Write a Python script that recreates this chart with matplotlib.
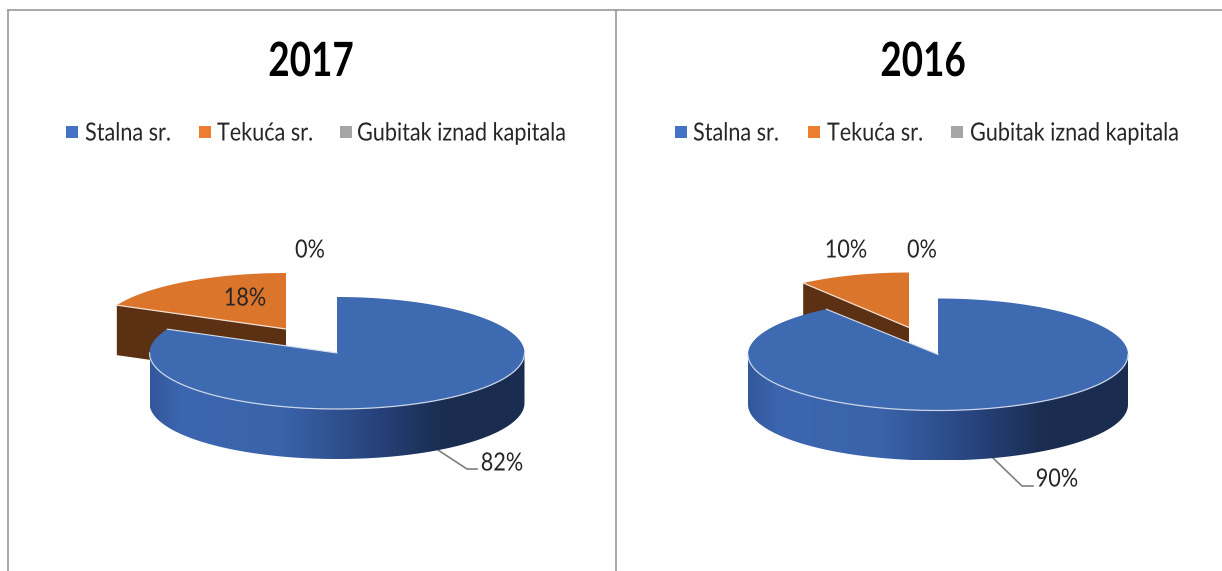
import numpy as np
import matplotlib
matplotlib.use("Agg")
import matplotlib.pyplot as plt
from matplotlib.colors import LinearSegmentedColormap
from matplotlib.patches import Polygon, Rectangle
from matplotlib.patheffects import AbstractPathEffect
from matplotlib.transforms import Affine2D

plt.rcParams['font.family'] = ['Lato', 'DejaVu Sans']

categories = ["Stalna sr.", "Tekuća sr.", "Gubitak iznad kapitala"]
titles = ["2017", "2016"]
values_2017 = [82, 18, 0]
values_2016 = [90, 10, 0]

W, H = 1222, 571
fig = plt.figure(figsize=(W / 100, H / 100), dpi=100)
ax = fig.add_axes([0, 0, 1, 1])

BLUE_TOP = "#3e6ab2"
ORANGE_TOP = "#dc752c"
WALL = "#5c3113"
LEG = ["#4472c4", "#ed7d31", "#a5a5a5"]
TXT = "#262626"
side_cmap = LinearSegmentedColormap.from_list("side", [
    (0.0, "#33579a"), (0.08, "#3c66b0"), (0.35, "#3a63aa"),
    (0.6, "#27437c"), (0.78, "#1a2d51"), (1.0, "#1a2c4f")])


class Squeeze(AbstractPathEffect):
    """Narrows a text horizontally about a pivot (pixels), as in the reference."""
    def __init__(self, pivot, factor):
        super().__init__()
        self.pivot, self.factor = pivot, factor

    def draw_path(self, renderer, gc, tpath, affine, rgbFace=None):
        squeeze = Affine2D().translate(-self.pivot, 0).scale(self.factor, 1).translate(self.pivot, 0)
        renderer.draw_path(gc, tpath, affine + squeeze, rgbFace)


def label(x, y, s, size=18, factor=0.865, ha="center", **kw):
    kw.setdefault("color", TXT)
    t = ax.text(x, y, s, fontsize=size, ha=ha, va="center", **kw)
    t.set_path_effects([Squeeze(x, factor)])
    return t


def ell(cx, cy, rx, ry, deg):
    t = np.radians(deg)
    return np.column_stack([cx + rx * np.sin(t), cy - ry * np.cos(t)])


def pie3d(values, main, second, depth):
    total = sum(values)
    a_main = 360 * values[0] / total
    a_second = a_main + 360 * values[1] / total
    cx, cy, rx, ry = second
    arc = ell(cx, cy, rx, ry, np.linspace(a_main, a_second, 60))
    wall = np.array([arc[0], [cx, cy], [cx, cy + depth], arc[0] + [0, depth]])
    ax.add_patch(Polygon(wall, fc=WALL, ec="none", zorder=2))
    top = np.vstack([[cx, cy], arc])
    ax.add_patch(Polygon(top, fc=ORANGE_TOP, ec="none", zorder=3))
    ax.plot([arc[0, 0], cx], [arc[0, 1], cy], color="#f3dfd0", lw=0.9, zorder=3.5)
    cx, cy, rx, ry = main
    front = ell(cx, cy, rx, ry, np.linspace(90, 270, 160))
    rim = np.vstack([front, (front + [0, depth])[::-1]])
    patch = Polygon(rim, fc="none", ec="none", transform=ax.transData)
    ax.add_patch(patch)
    im = ax.imshow(np.linspace(0, 1, 256)[None, :], cmap=side_cmap, aspect="auto",
                   extent=[cx - rx, cx + rx, cy + ry + depth, cy - ry], zorder=4)
    im.set_clip_path(patch)
    arc = ell(cx, cy, rx, ry, np.linspace(0, a_main, 240))
    top = np.vstack([[cx, cy], arc])
    ax.add_patch(Polygon(top, fc=BLUE_TOP, ec="none", zorder=5))
    ax.plot(front[:, 0], front[:, 1], color="#c9d4e8", lw=0.9, zorder=6)
    ax.plot([arc[-1, 0], cx], [arc[-1, 1], cy], color="#d5deee", lw=0.8, zorder=6)


pie3d(values_2017, (337, 353, 187.5, 56), (286, 329, 187, 56), 50)
pie3d(values_2016, (938, 354.5, 190, 56), (909, 327.5, 180, 55), 50)

ln = "#9a9a9a"
ax.plot([7.5, 7.5], [10, H], color=ln, lw=1.2, zorder=1)
ax.plot([7.5, W], [10, 10], color=ln, lw=1.2, zorder=1)
ax.plot([615.5, 615.5], [10, H], color=ln, lw=1.2, zorder=1)

label(311, 62, titles[0], size=34, factor=0.78, fontweight="bold", color="black")
label(923, 62, titles[1], size=34, factor=0.78, fontweight="bold", color="black")

squares = [[66, 199, 340], [675, 808, 951]]
labels_x = [[85, 217, 357], [693, 827, 970]]
for sq, lx in zip(squares, labels_x):
    for s, x, name, col in zip(sq, lx, categories, LEG):
        ax.add_patch(Rectangle((s, 126), 11.5, 11.5, fc=col, ec="none"))
        label(x, 133, name, ha="left")


def pct(v):
    return f"{v}%"


label(310, 250, pct(values_2017[2]))
label(245, 298, pct(values_2017[1]), zorder=8)
label(502, 463, pct(values_2017[0]))
label(846, 250, pct(values_2016[1]))
label(922, 250, pct(values_2016[2]))
label(1057, 479, pct(values_2016[0]))

ax.plot([438, 467, 477], [450, 469, 469], color="#7f7f7f", lw=1.2, zorder=3)
ax.plot([993, 1022, 1033], [458, 486, 486], color="#7f7f7f", lw=1.2, zorder=3)

ax.set_xlim(0, W)
ax.set_ylim(H, 0)
ax.axis("off")
fig.savefig("out.png", dpi=100, facecolor="white")
